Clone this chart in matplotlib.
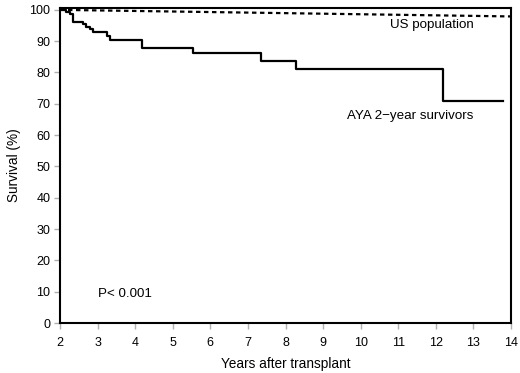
import matplotlib
matplotlib.use("Agg")
import matplotlib.pyplot as plt

plt.rcParams['font.family'] = ['Liberation Sans', 'DejaVu Sans']

# Kaplan-Meier step data (AYA 2-year survivors)
aya_years = [2.0, 2.16, 2.27, 2.34, 2.61, 2.69, 2.80, 2.87, 3.25, 3.33, 4.18, 5.55, 7.36, 8.29, 12.2, 13.8]
aya_surv = [100.0, 99.4, 98.7, 96.0, 95.5, 94.6, 93.9, 92.8, 91.7, 90.4, 87.8, 86.2, 83.7, 81.0, 71.0, 71.0]

# US population expected survival
us_years = [2.0, 14.0]
us_surv = [100.0, 97.9]

xticks = list(range(2, 15))
yticks = list(range(0, 101, 10))

fig = plt.figure(figsize=(5.2, 3.73), dpi=100)
ax = fig.add_axes([0.1154, 0.134, 0.8673, 0.8446])

ax.step(aya_years, aya_surv, where='post', color='black', lw=1.6)
ax.plot(us_years, us_surv, color='black', lw=1.6, linestyle=(0, (2.0, 1.6)))

ax.set_xlim(2, 14)
ax.set_ylim(0, 100.6)
ax.set_xticks(xticks)
ax.set_yticks(yticks)
ax.tick_params(axis='both', direction='out', length=4, width=1, color='#b0b0b0',
               labelsize=9)
ax.tick_params(axis='x', pad=6)
ax.tick_params(axis='y', pad=3)
for s in ax.spines.values():
    s.set_linewidth(1.5)
    s.set_color('black')

ax.set_xlabel('Years after transplant', fontsize=9.8, labelpad=6)
ax.set_ylabel('Survival (%)', fontsize=9.8, labelpad=6)

ax.text(13.0, 95.2, 'US population', ha='right', va='center', fontsize=9.6)
ax.text(13.0, 66.2, 'AYA 2\u2212year survivors', ha='right', va='center', fontsize=9.6)
ax.text(3.0, 9.2, 'P< 0.001', ha='left', va='center', fontsize=9.6)

fig.savefig('out.png', dpi=100)
